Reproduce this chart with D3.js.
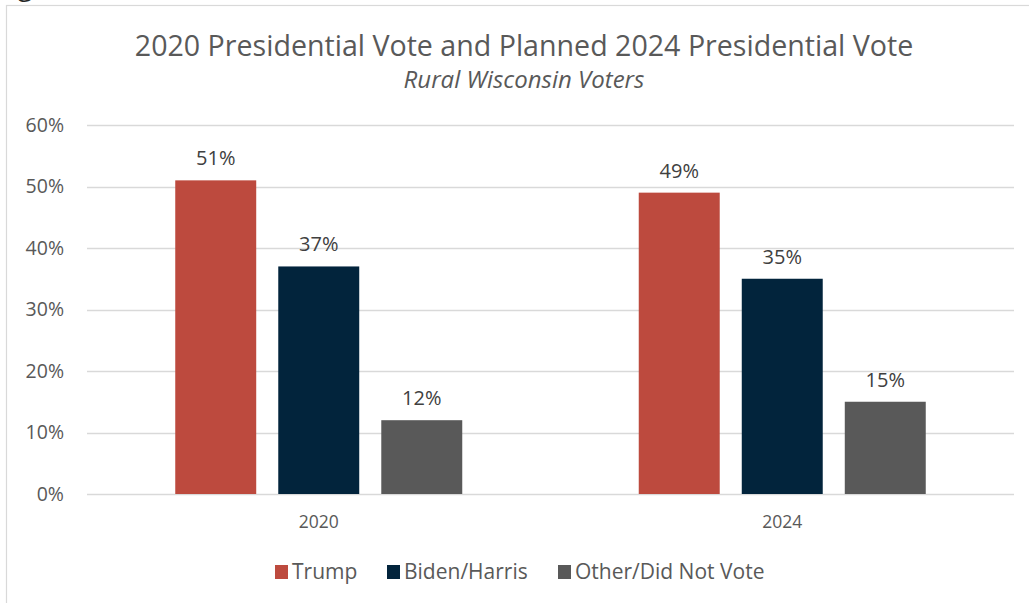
<!DOCTYPE html>
<html>
<head>
<meta charset="utf-8">
<script src="https://cdn.jsdelivr.net/npm/d3@7"></script>
<style>
  html, body { margin: 0; padding: 0; background: #fff; }
  svg { display: block; font-family: "Open Sans", "Noto Sans", sans-serif; }
</style>
</head>
<body>
<svg id="chart" width="1029" height="603"></svg>
<script>
// Vote share by election year (percent)
const years = ["2020", "2024"];
const seriesNames = ["Trump", "Biden/Harris", "Other/Did Not Vote"];
const trump = [51, 49];
const bidenHarris = [37, 35];
const otherDidNotVote = [12, 15];
const yTicks = [0, 10, 20, 30, 40, 50, 60];
const seriesColors = ["#bd4a3e", "#02243c", "#595959"];

const seriesValues = [trump, bidenHarris, otherDidNotVote];
const rows = years.map((yr, i) => ({
  year: yr,
  values: seriesNames.map((name, s) => ({ name, value: seriesValues[s][i], color: seriesColors[s] }))
}));

const svg = d3.select("#chart");
const W = 1029, H = 603;

// Frame of the chart area, with the tail of the heading above it
svg.append("text")
  .attr("x", 18).attr("y", -4)
  .attr("font-size", 26).attr("fill", "#262626")
  .text("g");
svg.append("rect")
  .attr("x", 6.5).attr("y", 5.5)
  .attr("width", W + 10).attr("height", H + 10)
  .attr("fill", "none").attr("stroke", "#d9d9d9").attr("stroke-width", 1.2);

const plot = { left: 87, right: 1014, top: 125, bottom: 494 };

const x0 = d3.scaleBand().domain(years).range([plot.left, plot.right]).paddingInner(0).paddingOuter(0);
const groupWidth = 287;
const x1 = d3.scaleBand().domain(seriesNames).range([0, groupWidth]).paddingInner(0.214).paddingOuter(0);
const y = d3.scaleLinear().domain([0, 60]).range([plot.bottom, plot.top]);

// Gridlines
svg.append("g")
  .selectAll("line")
  .data(yTicks)
  .join("line")
  .attr("x1", plot.left).attr("x2", plot.right)
  .attr("y1", d => Math.round(y(d)) + 0.5).attr("y2", d => Math.round(y(d)) + 0.5)
  .attr("stroke", "#d9d9d9").attr("stroke-width", 1.5);

// Y axis labels
const yAxis = d3.axisLeft(y).tickValues(yTicks).tickFormat(d => d + "%").tickSize(0).tickPadding(0);
const yg = svg.append("g").attr("transform", `translate(64,0)`).call(yAxis);
yg.select(".domain").remove();
yg.selectAll("text")
  .attr("font-family", "'Open Sans', sans-serif")
  .attr("font-size", 19.5).attr("fill", "#595959");

// X axis labels
const xAxis = d3.axisBottom(x0).tickSize(0).tickPadding(0);
const xg = svg.append("g").attr("transform", `translate(0,${plot.bottom + 22})`).call(xAxis);
xg.select(".domain").remove();
xg.selectAll("text")
  .attr("font-family", "'Open Sans', sans-serif")
  .attr("font-size", 17.5).attr("fill", "#595959");

// Bars
const groups = svg.append("g")
  .selectAll("g")
  .data(rows)
  .join("g")
  .attr("transform", d => `translate(${x0(d.year) + (x0.bandwidth() - groupWidth) / 2},0)`);

groups.selectAll("rect")
  .data(d => d.values)
  .join("rect")
  .attr("x", d => x1(d.name))
  .attr("y", d => y(d.value))
  .attr("width", x1.bandwidth())
  .attr("height", d => y(0) - y(d.value))
  .attr("fill", d => d.color);

groups.selectAll("text")
  .data(d => d.values)
  .join("text")
  .attr("x", d => x1(d.name) + x1.bandwidth() / 2)
  .attr("y", d => y(d.value) - 15)
  .attr("text-anchor", "middle")
  .attr("font-size", 20).attr("fill", "#404040")
  .text(d => d.value + "%");

// Titles
svg.append("text")
  .attr("x", 524).attr("y", 56)
  .attr("text-anchor", "middle")
  .attr("font-size", 28.6).attr("fill", "#595959")
  .text("2020 Presidential Vote and Planned 2024 Presidential Vote");
svg.append("text")
  .attr("x", 524).attr("y", 88)
  .attr("text-anchor", "middle")
  .attr("font-size", 24).attr("font-style", "italic").attr("fill", "#595959")
  .text("Rural Wisconsin Voters");

// Legend
const legendX = [275, 387, 558];
const legend = svg.append("g")
  .selectAll("g")
  .data(seriesNames)
  .join("g")
  .attr("transform", (d, i) => `translate(${legendX[i]},565)`);
legend.append("rect")
  .attr("x", 0).attr("y", 0).attr("width", 13).attr("height", 14)
  .attr("fill", (d, i) => seriesColors[i]);
legend.append("text")
  .attr("x", 17).attr("y", 14)
  .attr("font-size", 21).attr("fill", "#595959")
  .text(d => d);
</script>
</body>
</html>
